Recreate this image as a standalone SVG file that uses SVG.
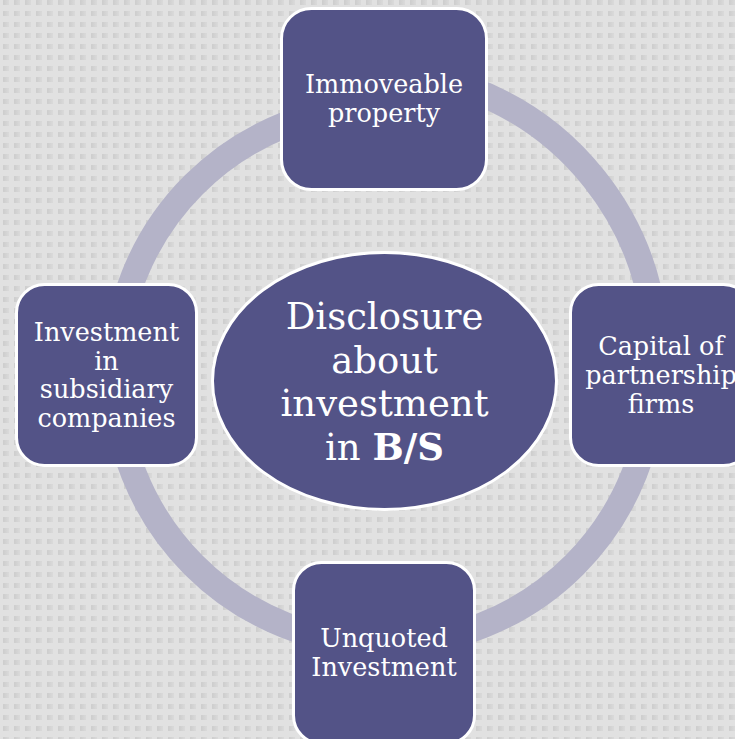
<svg xmlns="http://www.w3.org/2000/svg" width="735" height="739" viewBox="0 0 735 739">
  <defs>
    <linearGradient id="sq" x1="0" y1="0" x2="1" y2="0">
      <stop offset="0" stop-color="#cdcdcd"/>
      <stop offset="1" stop-color="#dadada"/>
    </linearGradient>
    <pattern id="dots" x="0" y="0" width="11" height="11" patternUnits="userSpaceOnUse">
      <rect x="3" y="0" width="6" height="5" fill="url(#sq)"/>
    </pattern>
    <style>
      .ring { fill: none; stroke: #b4b3c8; stroke-width: 26; }
      .node { fill: #535387; stroke: #ffffff; stroke-width: 3; }
      .lbl { fill: #ffffff; font-family: "DejaVu Serif", "Liberation Serif", serif; font-size: 25.5px; text-anchor: middle; }
      .hub { fill: #ffffff; font-family: "DejaVu Serif", "Liberation Serif", serif; font-size: 37px; text-anchor: middle; }
    </style>
  </defs>

  <!-- textured backdrop -->
  <rect x="0" y="0" width="735" height="739" fill="#e1e1e1"/>
  <rect x="0" y="0" width="735" height="739" fill="url(#dots)"/>

  <!-- cycle band linking the outer nodes -->
  <g id="connectors">
    <path class="ring" d="M 384 106 A 269 269 0 1 0 653 375"/>
    <path class="ring" d="M 470 89 A 285 285 0 0 1 654 320"/>
  </g>

  <g id="node-top">
    <rect class="node" x="281.5" y="8.5" width="205" height="181" rx="30" ry="30"/>
    <text class="lbl" x="384" y="93">Immoveable</text>
    <text class="lbl" x="384" y="122">property</text>
  </g>

  <g id="node-left">
    <rect class="node" x="16.5" y="284.5" width="180" height="181" rx="28" ry="28"/>
    <text class="lbl" x="106.5" y="341">Investment</text>
    <text class="lbl" x="106.5" y="369.5">in</text>
    <text class="lbl" x="106.5" y="398">subsidiary</text>
    <text class="lbl" x="106.5" y="427">companies</text>
  </g>

  <g id="node-right">
    <rect class="node" x="570.5" y="284.5" width="181" height="181" rx="28" ry="28"/>
    <text class="lbl" x="661" y="355">Capital of</text>
    <text class="lbl" x="661" y="384">partnership</text>
    <text class="lbl" x="661" y="413">firms</text>
  </g>

  <g id="node-bottom">
    <rect class="node" x="293.5" y="562.5" width="181" height="181" rx="28" ry="28"/>
    <text class="lbl" x="384" y="647">Unquoted</text>
    <text class="lbl" x="384" y="676">Investment</text>
  </g>

  <g id="node-center">
    <ellipse class="node" cx="384.5" cy="381" rx="172" ry="128.5"/>
    <text class="hub" x="384.5" y="329">Disclosure</text>
    <text class="hub" x="384.5" y="372.5">about</text>
    <text class="hub" x="384.5" y="416">investment</text>
    <text class="hub" x="384.5" y="459.5">in <tspan font-weight="bold">B/S</tspan></text>
  </g>
</svg>
